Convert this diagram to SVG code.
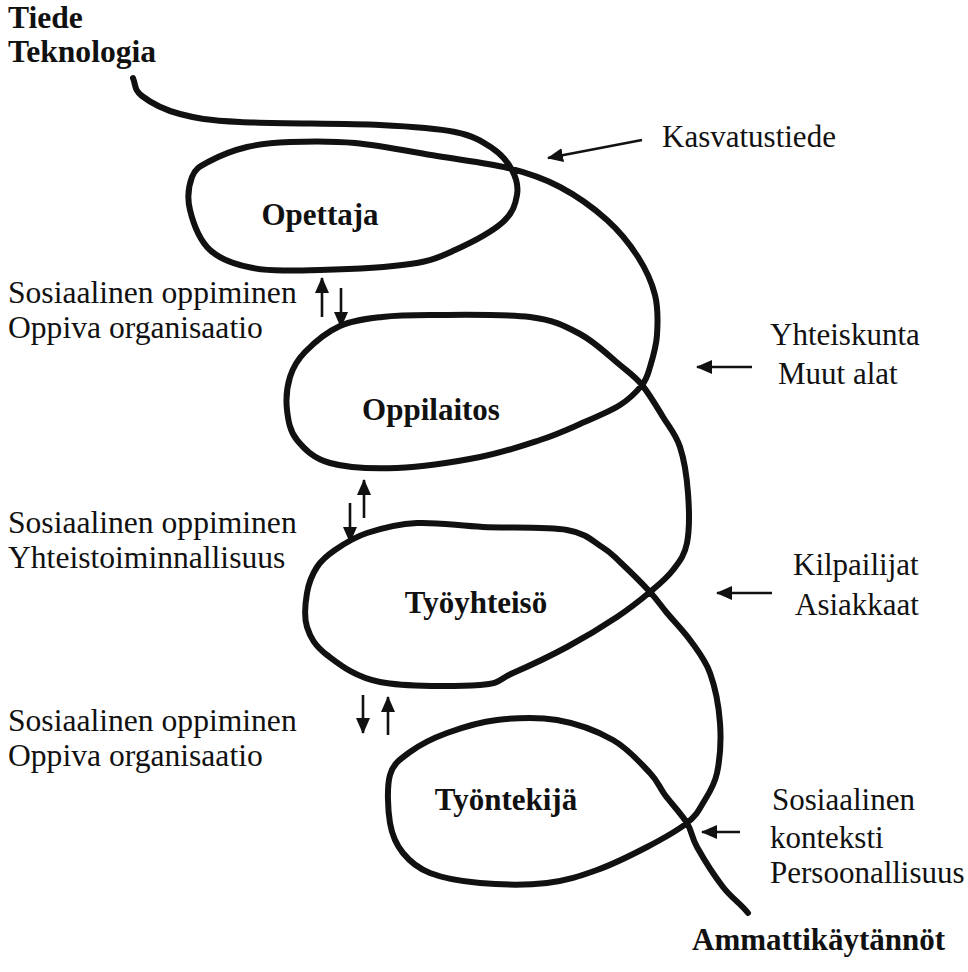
<svg xmlns="http://www.w3.org/2000/svg" width="968" height="972" viewBox="0 0 968 972">
  <style>
    text { font-family: 'Liberation Serif', 'DejaVu Serif', serif; font-size: 31px; fill: #111; }
    .bold { font-weight: bold; }
    .left text { font-size: 31.6px; }
    .spiral { fill: none; stroke: #111; stroke-width: 6; stroke-linecap: round; stroke-linejoin: round; }
    .arr { fill: none; stroke: #111; stroke-width: 2.6; marker-end: url(#head); }
  </style>
  <defs>
    <marker id="head" markerUnits="userSpaceOnUse" markerWidth="16" markerHeight="14" refX="15" refY="7" orient="auto">
      <path d="M0,0 L16,7 L0,14 Z" fill="#111"/>
    </marker>
  </defs>
  <rect width="968" height="972" fill="#fff"/>

  <!-- connectors: the spiral and the influence arrows -->
  <g id="connectors">
    <path class="spiral" d="M133,78 C136,86 134.2,90 142,96 S163.7,109.7 180,114 S206.7,120.2 240,122 S344.2,123.3 380,125 S436.3,128.2 455,132 S482.5,141.7 492,148 S507.8,162.2 512,170 S518.5,186.3 517,195 S513.3,212.8 503,222 S470.5,243 455,250 S432.5,260.7 410,264 S346.2,269.3 320,270 S271.3,271.3 253,268 S220.5,259.7 210,250 S193,222.2 190,210 S189,185 192,177 S198.8,167 208,162 S233.3,150.3 247,147 S272,142.7 290,142 S330.5,140.7 355,143 S411.5,151.8 437,156 S487.5,162.8 508,168 S543.5,178.3 560,187 S594,208.3 607,220 S630,244.5 638,257 S651.8,282 655,295 S657.8,323 657,335 S652.5,358.7 650,367 S647,378.7 642,385 S630.3,398.5 620,405 S593.3,418.2 580,424 S556.7,434.5 540,440 S503.8,452.3 480,457 S422,467 397,468 S346.7,467.7 330,463 S304.2,448.8 297,440 S288.2,420.5 287,410 S287,386.7 290,377 S296.7,360.5 305,352 S327.2,331.8 340,326 S367,318.8 382,317 S405.3,315 430,315 S505,313.8 530,317 S565,326 580,334 S609.7,356.5 620,365 S634.8,376.3 642,385 S656.7,406.7 663,417 S675.8,434.3 680,447 S686.8,477 688,493 S689.5,530.2 687,543 S679.2,561.8 673,570 S659.3,584.2 650,592 S630.8,607.8 617,617 S584.3,637.7 567,647 S527.5,666.7 513,673 S502.2,683.5 480,685 S405.5,687 380,682 S339.2,664.2 327,655 S310.3,637.3 307,627 S305.3,603 307,593 S312.3,574.2 317,567 S326.7,555.7 335,550 S353.3,537.5 367,533 S397.7,524 417,523 S458,525.8 483,527 S547.2,526.7 567,530 S593.2,541.7 602,547 S612,554.5 620,562 S642.2,583.5 650,592 S660.3,605 667,613 S682.8,630 690,640 S705,659.2 710,673 S718.8,706.3 720,723 S719.8,759.7 717,773 S708,794.7 703,803 S696.3,815.7 687,823 S662,839.2 647,847 S613.7,864 597,870 S566.5,880.8 547,883 S499.5,884.7 480,883 S442.8,878 430,873 S409.7,861.3 403,853 S392.2,836 390,823 S386.7,786.8 390,775 S400.5,759 410,752 S432.5,738.3 447,733 S478.7,722.2 497,720 S537.7,716.7 557,720 S597.5,731.2 613,740 S641.3,763.8 650,773 S658.8,786.7 665,795 S681.7,814.3 687,823 S691,836.3 697,847 S714.5,876 723,887 S740,903 748,913"/>

    <!-- external influences -->
    <path class="arr" d="M642,140 L548,158"/>
    <path class="arr" d="M752,367 L697,367"/>
    <path class="arr" d="M772,593 L717,593"/>
    <path class="arr" d="M740,832 L702,832"/>

    <!-- two-way links between levels -->
    <path class="arr" d="M322,317 L322,278"/>
    <path class="arr" d="M341,288 L341,327"/>
    <path class="arr" d="M350,503 L350,542"/>
    <path class="arr" d="M364,518 L364,480"/>
    <path class="arr" d="M363,695 L363,733"/>
    <path class="arr" d="M388,735 L388,697"/>
  </g>

  <!-- levels of the spiral -->
  <g id="opettaja"><text class="bold" x="320" y="225" text-anchor="middle">Opettaja</text></g>
  <g id="oppilaitos"><text class="bold" x="431" y="420" text-anchor="middle">Oppilaitos</text></g>
  <g id="tyoyhteiso"><text class="bold" x="476" y="613" text-anchor="middle">Työyhteisö</text></g>
  <g id="tyontekija"><text class="bold" x="506" y="810" text-anchor="middle">Työntekijä</text></g>

  <!-- start and end labels -->
  <g id="tiede" class="left"><text class="bold" x="8" y="28">Tiede</text><text class="bold" x="8" y="62">Teknologia</text></g>
  <g id="ammattikaytannot"><text class="bold" x="692" y="950">Ammattikäytännöt</text></g>

  <!-- influences from the right -->
  <g id="kasvatustiede"><text x="662" y="147">Kasvatustiede</text></g>
  <g id="yhteiskunta"><text x="770" y="345">Yhteiskunta</text><text x="778" y="384">Muut alat</text></g>
  <g id="kilpailijat"><text x="793" y="575">Kilpailijat</text><text x="795" y="615">Asiakkaat</text></g>
  <g id="sosiaalinen-konteksti"><text x="772" y="810">Sosiaalinen</text><text x="770" y="848">konteksti</text><text x="770" y="883">Persoonallisuus</text></g>

  <!-- learning between levels -->
  <g id="oppiminen-1" class="left"><text x="8" y="303">Sosiaalinen oppiminen</text><text x="8" y="338">Oppiva organisaatio</text></g>
  <g id="oppiminen-2" class="left"><text x="8" y="533">Sosiaalinen oppiminen</text><text x="8" y="568">Yhteistoiminnallisuus</text></g>
  <g id="oppiminen-3" class="left"><text x="8" y="731">Sosiaalinen oppiminen</text><text x="8" y="766">Oppiva organisaatio</text></g>
</svg>
